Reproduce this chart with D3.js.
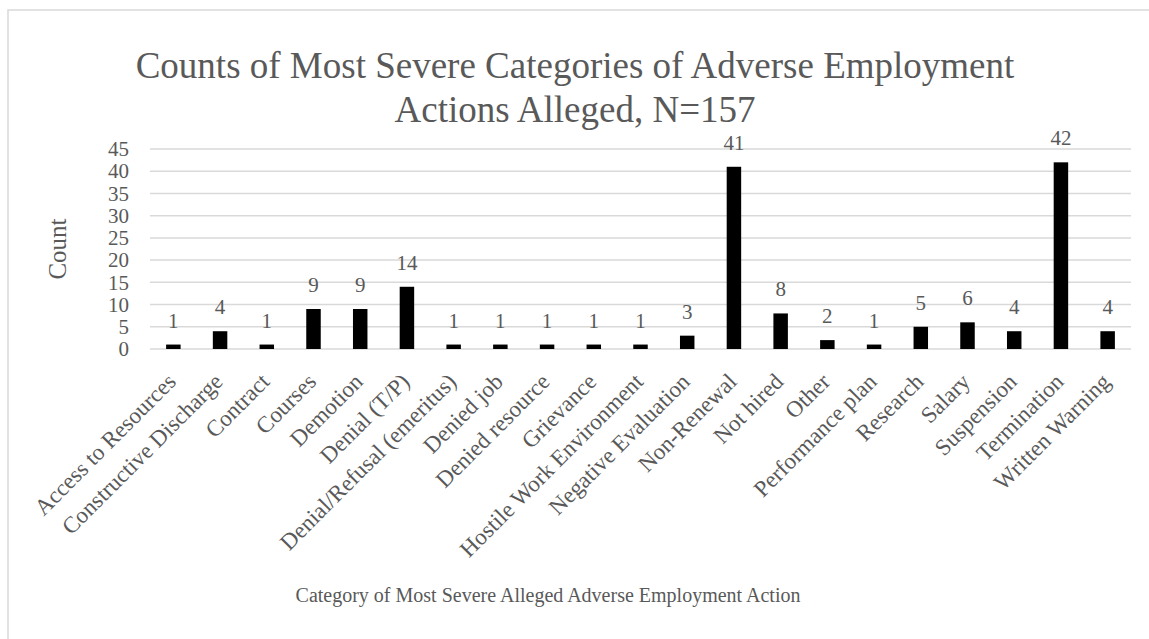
<!DOCTYPE html>
<html><head><meta charset="utf-8">
<script src="https://cdn.jsdelivr.net/npm/d3@7"></script>
<style>body{margin:0;background:#fff}svg{display:block}</style>
</head><body>
<svg id="c" width="1149" height="639"></svg>
<script>
const categories = ["Access to Resources","Constructive Discharge","Contract","Courses","Demotion","Denial (T/P)","Denial/Refusal (emeritus)","Denied job","Denied resource","Grievance","Hostile Work Environment","Negative Evaluation","Non-Renewal","Not hired","Other","Performance plan","Research","Salary","Suspension","Termination","Written Warning"];
const counts = [1,4,1,9,9,14,1,1,1,1,1,3,41,8,2,1,5,6,4,42,4];
const yTicks = [0,5,10,15,20,25,30,35,40,45];
const titleLines = ["Counts of Most Severe Categories of Adverse Employment","Actions Alleged, N=157"];
const xTitle = "Category of Most Severe Alleged Adverse Employment Action";
const yTitle = "Count";

const font = "'Liberation Serif','Times New Roman',serif";
const txt = "#595959", grid = "#d9d9d9";
const svg = d3.select("#c");
svg.append("rect").attr("x",8).attr("y",10).attr("width",1160).attr("height",660)
  .attr("fill","none").attr("stroke",grid).attr("stroke-width",1.5);

const L=150,R=1131,T=149,B=349;
const x = d3.scaleBand().domain(categories).range([L,R]).paddingInner(0.69).paddingOuter(0.345);
const y = d3.scaleLinear().domain([0,45]).range([B,T]);

svg.append("g").selectAll("line").data(yTicks).join("line")
  .attr("x1",L).attr("x2",R).attr("y1",d=>y(d)).attr("y2",d=>y(d))
  .attr("stroke",grid).attr("stroke-width",1.5);

const ya = svg.append("g").attr("transform",`translate(${L-8},0)`)
  .call(d3.axisLeft(y).tickValues(yTicks).tickSize(0).tickPadding(13));
ya.select(".domain").remove();
ya.selectAll("text").attr("font-family",font).attr("font-size",21).attr("fill",txt);

svg.append("g").selectAll("rect").data(counts).join("rect")
  .attr("x",(d,i)=>x(categories[i])).attr("width",x.bandwidth())
  .attr("y",d=>y(d)).attr("height",d=>y(0)-y(d)).attr("fill","#000");

svg.append("g").selectAll("text").data(counts).join("text")
  .attr("x",(d,i)=>x(categories[i])+x.bandwidth()/2).attr("y",d=>y(d)-17)
  .attr("text-anchor","middle").attr("font-family",font).attr("font-size",21).attr("fill",txt)
  .text(d=>d);

const xa = svg.append("g").attr("transform",`translate(0,${B})`)
  .call(d3.axisBottom(x).tickSize(0).tickPadding(0));
xa.select(".domain").remove();
xa.selectAll("text").attr("font-family",font).attr("font-size",23).attr("fill",txt)
  .attr("text-anchor","end").attr("dy",null).attr("y",null)
  .attr("transform","translate(4,34) rotate(-45)");

svg.append("g").selectAll("text").data(titleLines).join("text")
  .attr("x",575).attr("y",(d,i)=>78+i*44).attr("text-anchor","middle")
  .attr("font-family",font).attr("font-size",37).attr("fill",txt).text(d=>d);

svg.append("text").attr("x",548).attr("y",602).attr("text-anchor","middle")
  .attr("font-family",font).attr("font-size",20).attr("fill",txt).text(xTitle);

svg.append("text").attr("transform","translate(66,249) rotate(-90)").attr("text-anchor","middle")
  .attr("font-family",font).attr("font-size",25).attr("fill",txt).text(yTitle);
</script>
</body></html>
